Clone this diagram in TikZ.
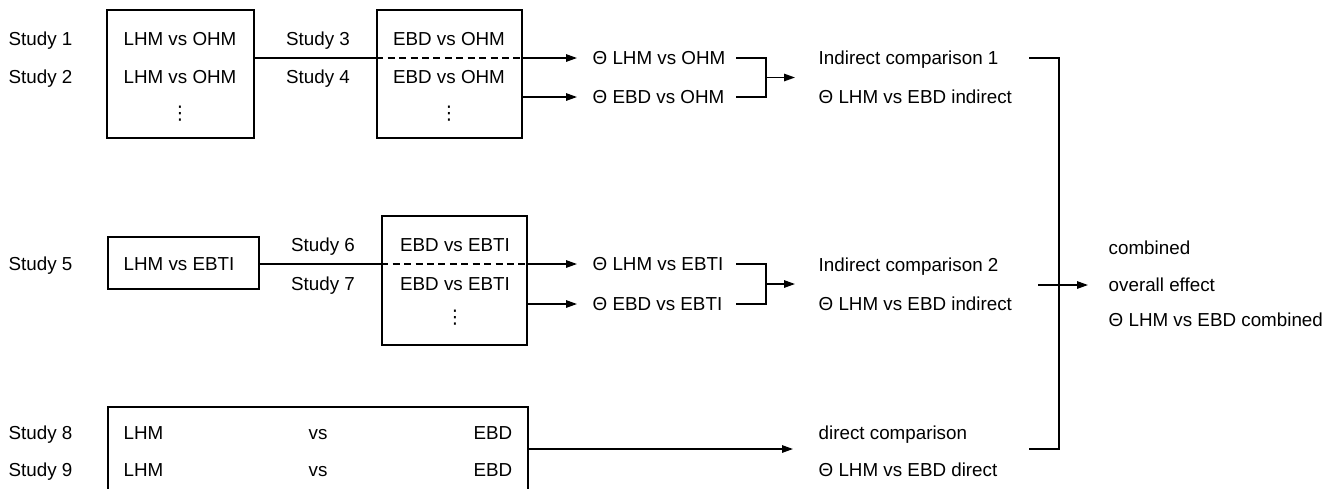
\documentclass[tikz,border=0pt]{standalone}
\usepackage{fontspec}
\setmainfont{Liberation Sans}
\newfontfamily\symfont{DejaVu Sans}
\usetikzlibrary{arrows.meta,calc}
\tikzset{
  lbl/.style={font=\fontsize{10.7}{13}\selectfont, inner sep=0pt, text height=7.7pt, text depth=0pt},
  dts/.style={font=\fontsize{10.7}{13}\symfont, inner sep=0pt},
  box/.style={draw, inner sep=0pt},
  arr/.style={-{Triangle[length=2.2mm,width=1.5mm]}},
  dsh/.style={dash pattern=on 4pt off 2.5pt}
}
\begin{document}
\begin{tikzpicture}[x=0.02cm,y=-0.02cm,line width=0.8pt]
	\useasboundingbox (0,0) rectangle (1339,488);
	\clip (0,0) rectangle (1339,488);

	% study labels
	\foreach \n/\y in {1/39,2/77,5/264,8/433,9/470}
		\node[lbl,anchor=west] (s\n) at (8,\y) {Study \n};
	\foreach \n/\x/\y in {3/318/39,4/318/77,6/323/245,7/323/284}
		\node[lbl] (s\n) at (\x,\y) {Study \n};

	% boxes
	\node[box,minimum width=2.94cm,minimum height=2.56cm] (b1) at (180.5,74) {};
	\node[box,minimum width=2.9cm,minimum height=2.56cm] (b2) at (449.5,74) {};
	\node[box,minimum width=3.02cm,minimum height=1.04cm] (b3) at (183.5,263) {};
	\node[box,minimum width=2.9cm,minimum height=2.58cm] (b4) at (454.5,280.5) {};
	\node[box,minimum width=8.4cm,minimum height=1.68cm] (b5) at (318,449) {};

	\node[lbl] (p1) at (180,39) {LHM vs OHM};
	\node[lbl] (p2) at (180,77) {LHM vs OHM};
	\node[dts] (v1) at (180,114) {⋮};
	\node[lbl] (q1) at (449,39) {EBD vs OHM};
	\node[lbl] (q2) at (449,77) {EBD vs OHM};
	\node[dts] (v2) at (449,114) {⋮};
	\node[lbl] (p3) at (179,264) {LHM vs EBTI};
	\node[lbl] (q3) at (455,245) {EBD vs EBTI};
	\node[lbl] (q4) at (455,284) {EBD vs EBTI};
	\node[dts] (v3) at (455,318) {⋮};
	\foreach \k/\y in {1/433,2/470} {
		\node[lbl,anchor=west] (r\k a) at (123,\y) {LHM};
		\node[lbl] (r\k b) at (318,\y) {vs};
		\node[lbl,anchor=east] (r\k c) at (513,\y) {EBD};}

	% estimates
	\node[lbl,anchor=west] (t1) at (592,58) {Θ LHM vs OHM};
	\node[lbl,anchor=west] (t2) at (592,97) {Θ EBD vs OHM};
	\node[lbl,anchor=west] (t3) at (592,264) {Θ LHM vs EBTI};
	\node[lbl,anchor=west] (t4) at (592,304) {Θ EBD vs EBTI};
	\node[lbl,anchor=west] (i1) at (818,58) {Indirect comparison 1};
	\node[lbl,anchor=west] (i1b) at (818,97) {Θ LHM vs EBD indirect};
	\node[lbl,anchor=west] (i2) at (818,265) {Indirect comparison 2};
	\node[lbl,anchor=west] (i2b) at (818,304) {Θ LHM vs EBD indirect};
	\node[lbl,anchor=west] (d1) at (818,433) {direct comparison};
	\node[lbl,anchor=west] (d1b) at (818,470) {Θ LHM vs EBD direct};
	\node[lbl,anchor=west] (c1) at (1108,248) {combined};
	\node[lbl,anchor=west] (c2) at (1108,285) {overall effect};
	\node[lbl,anchor=west] (c3) at (1108,320) {Θ LHM vs EBD combined};

	% connectors row 1
	\draw (b1.east |- t1) -- (b2.west |- t1);
	\draw[dsh] (b2.west |- t1) -- (b2.east |- t1);
	\draw[arr,shorten >=0.3cm] (b2.east |- t1) -- (t1.west);
	\draw[arr,shorten >=0.3cm] (b2.east |- t2) -- (t2.west);
	% connectors row 2
	\draw (b3.east |- t3) -- (b4.west |- t3);
	\draw[dsh] (b4.west |- t3) -- (b4.east |- t3);
	\draw[arr,shorten >=0.3cm] (b4.east |- t3) -- (t3.west);
	\draw[arr,shorten >=0.3cm] (b4.east |- t4) -- (t4.west);
	% direct
	\draw[arr,shorten >=0.5cm] (b5.east) -- (b5.east -| d1.west);

	% brackets
	\coordinate (k1) at (736,0);
	\coordinate (k2) at (766,0);
	\coordinate (j1) at ($(t1.west)!0.5!(t2.west)$);
	\coordinate (j2) at ($(t3.west)!0.5!(t4.west)$);
	\draw (k1 |- t1) -| (k2 |- t2) -- (k1 |- t2);
	\draw (k1 |- t3) -| (k2 |- t4) -- (k1 |- t4);
	\draw[arr,shorten >=0.46cm] (k2 |- j1) -- (i1.west |- j1);
	\draw[arr,shorten >=0.46cm] (k2 |- j2) -- (i2.west |- j2);

	\coordinate (g1) at (1029,0);
	\coordinate (g2) at (1059,0);
	\coordinate (m) at (1038,0);
	\draw (g1 |- i1) -| (g2 |- b5.east) -- (g1 |- b5.east);
	\draw[arr,shorten >=0.4cm] (m |- c2) -- (c2.west);

\end{tikzpicture}
\end{document}
